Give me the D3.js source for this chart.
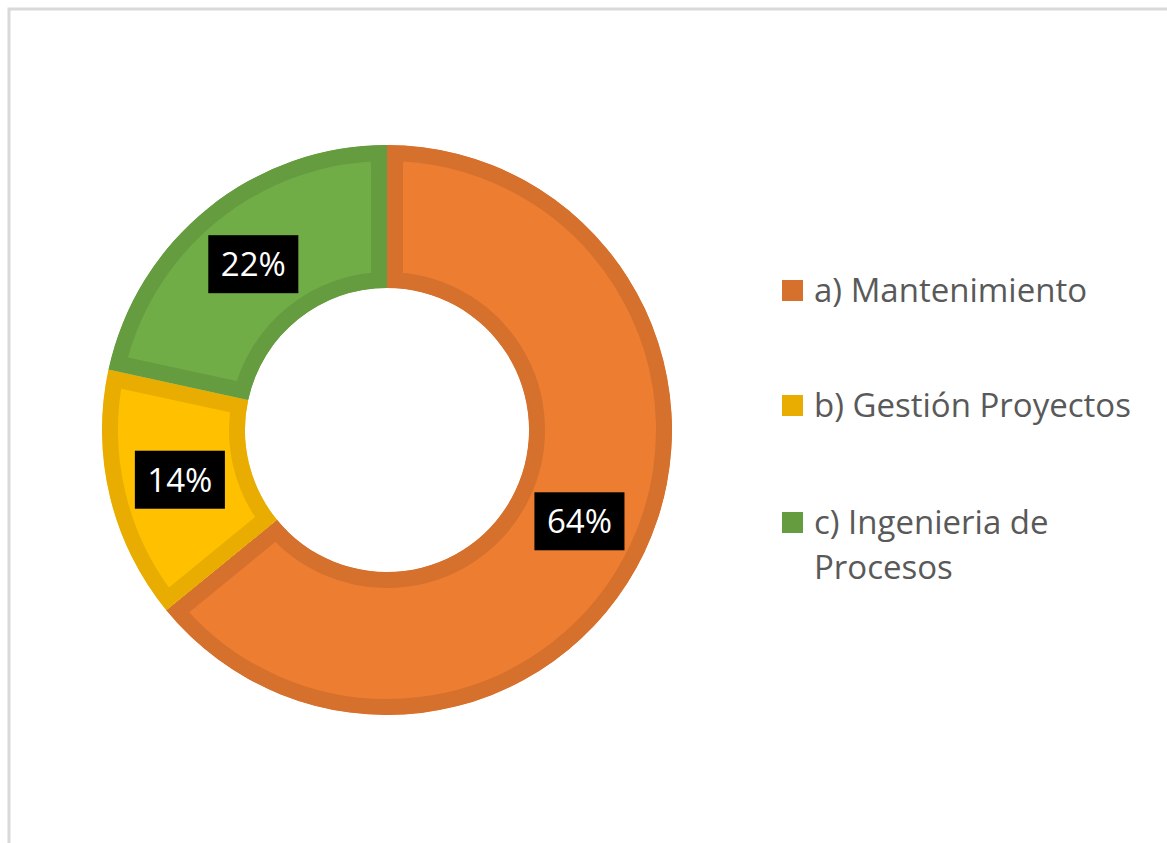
<!DOCTYPE html>
<html>
<head>
<meta charset="utf-8">
<script src="https://cdn.jsdelivr.net/npm/d3@7"></script>
<style>
  html, body { margin: 0; padding: 0; background: #ffffff; }
  svg { display: block; }
</style>
</head>
<body>
<svg id="chart" width="1167" height="843"></svg>
<script>
// ---- data ----
const categories = ["a) Mantenimiento", "b) Gestión Proyectos", "c) Ingenieria de Procesos"];
const legendLines = [["a) Mantenimiento"], ["b) Gestión Proyectos"], ["c) Ingenieria de", "Procesos"]];
const values = [64.1, 14.3, 21.6];
const labels = ["64%", "14%", "22%"];
const fillColors = ["#ED7D31", "#FFC000", "#70AD47"];
const strokeColors = ["#D5712D", "#E8AD00", "#659C40"];

const svg = d3.select("#chart");

// chart border (only top/left edges visible in the frame)
svg.append("rect")
  .attr("x", 9).attr("y", 9)
  .attr("width", 1300).attr("height", 1000)
  .attr("fill", "#ffffff")
  .attr("stroke", "#D9D9D9")
  .attr("stroke-width", 3);

const cx = 387, cy = 430;
const outerR = 285, innerR = 142, band = 16;

const pie = d3.pie().sort(null).value(d => d).startAngle(0).endAngle(2 * Math.PI);
const arcs = pie(values);
const arc = d3.arc().innerRadius(innerR).outerRadius(outerR);
const labelArc = d3.arc().innerRadius(213).outerRadius(213);

const defs = svg.append("defs");
arcs.forEach((a, i) => {
  defs.append("clipPath").attr("id", "clip" + i)
    .append("path").attr("d", arc(a));
});

const g = svg.append("g").attr("transform", `translate(${cx},${cy})`);

g.selectAll("path.slice")
  .data(arcs)
  .join("path")
  .attr("class", "slice")
  .attr("d", arc)
  .attr("fill", (d, i) => fillColors[i])
  .attr("stroke", (d, i) => strokeColors[i])
  .attr("stroke-width", band * 2)
  .attr("stroke-linejoin", "miter")
  .attr("clip-path", (d, i) => `url(#clip${i})`);

// data labels
const lg = g.selectAll("g.lbl")
  .data(arcs)
  .join("g")
  .attr("class", "lbl")
  .attr("transform", d => `translate(${labelArc.centroid(d)})`);

lg.each(function(d, i) {
  const sel = d3.select(this);
  const rect = sel.append("rect").attr("fill", "#000000");
  const t = sel.append("text")
    .attr("text-anchor", "middle")
    .attr("dy", "0.36em")
    .attr("fill", "#ffffff")
    .style("font-family", "'Open Sans', 'Liberation Sans', sans-serif")
    .style("font-size", "33px")
    .text(labels[i]);
  const w = t.node().getComputedTextLength() + 25;
  const h = 58;
  rect.attr("x", -w / 2).attr("y", -h / 2).attr("width", w).attr("height", h);
});

// legend
const legend = svg.append("g").attr("transform", "translate(782,0)");
const rowY = [291, 406, 523];
legendLines.forEach((lines, i) => {
  const row = legend.append("g").attr("transform", `translate(0,${rowY[i]})`);
  row.append("rect")
    .attr("x", 0).attr("y", -11)
    .attr("width", 21).attr("height", 21)
    .attr("fill", strokeColors[i]);
  const txt = row.append("text")
    .attr("x", 32).attr("y", 11)
    .attr("fill", "#595959")
    .style("font-family", "'Open Sans', 'Liberation Sans', sans-serif")
    .style("font-size", "33px");
  lines.forEach((ln, j) => {
    txt.append("tspan").attr("x", 32).attr("dy", j === 0 ? 0 : 45).text(ln);
  });
});
</script>
</body>
</html>
